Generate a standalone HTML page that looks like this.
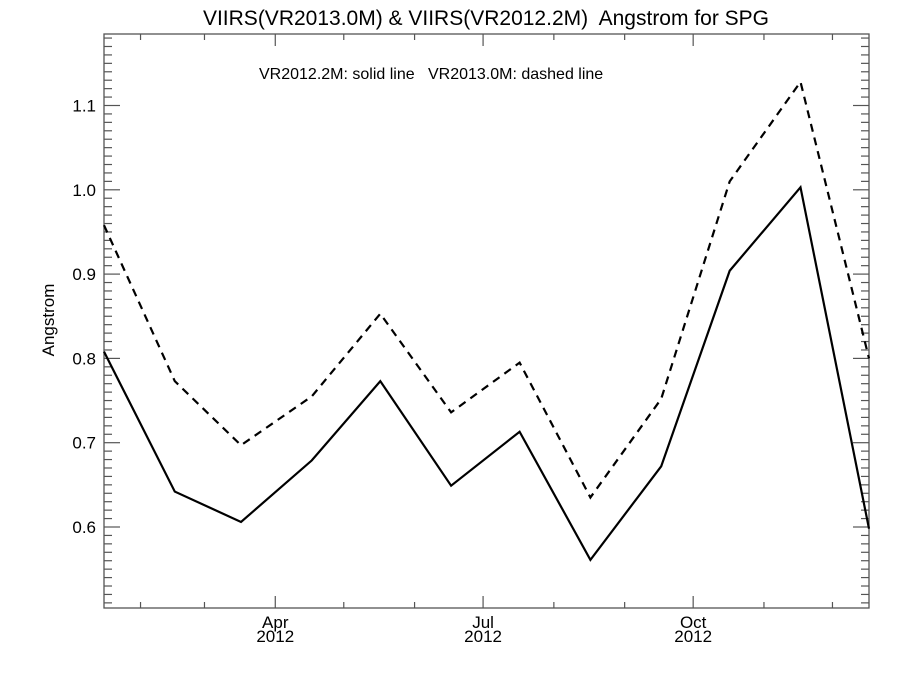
<!DOCTYPE html>
<html><head><meta charset="utf-8"><style>
body{margin:0;background:#fff}
svg text{font-family:"Liberation Sans",sans-serif;fill:#000;white-space:pre}
</style></head><body>
<svg id="chart" width="900" height="675" viewBox="0 0 900 675" xmlns="http://www.w3.org/2000/svg">
<text x="486" y="25" font-size="21" text-anchor="middle">VIIRS(VR2013.0M) &amp; VIIRS(VR2012.2M)  Angstrom for SPG</text>
<text x="259" y="79" font-size="16">VR2012.2M: solid line   VR2013.0M: dashed line</text>
<text transform="translate(54,320) rotate(-90)" font-size="17" text-anchor="middle">Angstrom</text>
<g id="axes"></g>
<g id="series"></g>
</svg>
<script>
const days = [16,47,76,107,137,168,198,229,260,290,321,351];
const solidVals = [0.808,0.642,0.606,0.679,0.773,0.649,0.713,0.561,0.672,0.904,1.003,0.598];
const dashedVals = [0.958,0.773,0.697,0.755,0.853,0.736,0.795,0.635,0.752,1.010,1.128,0.800];
const yTicks = [0.6,0.7,0.8,0.9,1.0,1.1];
const monthStarts = [32,60,91,121,152,182,213,244,274,305,335];
const majorMonths = ["Apr","Jul","Oct"];
const majorDays = [91,182,274];

const L=104,R=869,T=34,B=608;
const x=d=>L+(d-days[0])/(days[days.length-1]-days[0])*(R-L);
const y=v=>527-(v-0.6)*843;
const ns="http://www.w3.org/2000/svg";
const ax=document.getElementById('axes'), se=document.getElementById('series');
function mk(tag,attrs,parent){const e=document.createElementNS(ns,tag);for(const k in attrs)e.setAttribute(k,attrs[k]);parent.appendChild(e);return e;}

const frame=mk('rect',{x:L,y:T,width:R-L,height:B-T,fill:'none',stroke:'#555','stroke-width':1.3},ax);



for(let i=0;i<=68;i++){
  const v=0.50+i*0.01; const yy=y(v);
  if(yy<T+1||yy>B-1)continue;
  const major=Math.abs(v*10-Math.round(v*10))<1e-6;
  const len=major?16:8;
  const t1=mk('line',{x1:L,x2:L+len,y1:yy,y2:yy,stroke:'#555','stroke-width':1.2},ax);
  
  
  const t2=mk('line',{x1:R,x2:R-len,y1:yy,y2:yy,stroke:'#555','stroke-width':1.2},ax);
  
  
}
yTicks.forEach(v=>{
  const t=mk('text',{x:L-8,y:y(v)+6,'font-size':17,'text-anchor':'end'},ax);
  t.textContent=v.toFixed(1);
  
  
});
monthStarts.forEach(d=>{
  const major=majorDays.includes(d); const len=major?12:6; const xx=x(d);
  const a=mk('line',{x1:xx,x2:xx,y1:B,y2:B-len,stroke:'#555','stroke-width':1.2},ax);
  
  
  const b=mk('line',{x1:xx,x2:xx,y1:T,y2:T+len,stroke:'#555','stroke-width':1.2},ax);
  
  
});
majorDays.forEach((d,i)=>{
  const t=mk('text',{x:x(d),y:628,'font-size':17,'text-anchor':'middle'},ax);
  t.textContent=majorMonths[i];
  
  
  const t2=mk('text',{x:x(d),y:642,'font-size':17,'text-anchor':'middle'},ax);
  t2.textContent='2012';
  
  
});
function line(vals,dash,name){
  const p=mk('polyline',{points:vals.map((v,i)=>x(days[i])+','+y(v)).join(' '),fill:'none',stroke:'#000','stroke-width':2.2,'stroke-dasharray':dash},se);
  
  
}
line(solidVals,'none','series-vr2012-solid');
line(dashedVals,'8,6','series-vr2013-dashed');
</script>
</body></html>
